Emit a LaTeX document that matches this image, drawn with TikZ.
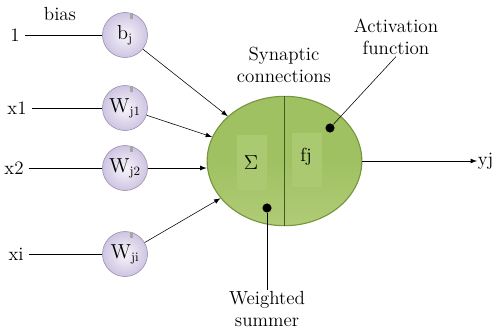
\documentclass[tikz,border=0pt]{standalone}
\usetikzlibrary{shapes.geometric}

\definecolor{cellgreen}{RGB}{160,193,98}
\definecolor{cellgreenlt}{RGB}{176,204,118}
\definecolor{celledge}{RGB}{118,150,62}
\definecolor{wlilac}{RGB}{206,196,226}
\definecolor{wedge}{RGB}{150,140,168}

\begin{document}
\begin{tikzpicture}[x=0.025cm, y=-0.025cm]
\tikzset{ >=latex, font=\fontsize{13.5}{15.5}\selectfont, line width=0.6pt,
  weight/.style={circle, draw=wedge, thin, inner sep=0pt, minimum width=32pt, minimum height=30pt,
    inner color=white!85!wlilac, outer color=wlilac},
  neuron/.style={ellipse, draw=celledge, thick, minimum width=110pt, minimum height=92pt,
    top color=cellgreen, bottom color=cellgreenlt, middle color=cellgreen},
  dot/.style={circle, fill=black, inner sep=0pt, minimum size=6.5pt},
  lbl/.style={align=center, inner sep=1pt},
}

\useasboundingbox (0,0) rectangle (494,331);

%\draw [lightgray, dashed](0,0) grid[step=50] (494,331);

% inputs
\node (one) at (15,35) {1};
\node (bias) at (60,14) {bias};
\node (x1) at (17,108) {x1};
\node (x2) at (14,168) {x2};
\node (xi) at (16,254) {xi};

% weights
\node [weight] (b)  at (125,35)  {$\mathrm{b_j}$};
\node [weight] (w1) at (125,108) {$\mathrm{W_{j1}}$};
\node [weight] (w2) at (125,168) {$\mathrm{W_{j2}}$};
\node [weight] (wi) at (125,254) {$\mathrm{W_{ji}}$};

\foreach \n in {b,w1,w2,wi}
  \fill [gray!70] ([shift={(-8pt,4pt)}]\n.north east) rectangle +(2pt,-4pt);

% neuron
\node [neuron] (n) at (284.5,161) {};
\fill [cellgreenlt!70!cellgreen] (237,135) rectangle (267,190);
\fill [cellgreenlt!70!cellgreen] (292,133) rectangle (322,187);
\draw [celledge!60!black, thick] (n.north) -- (n.south);
\node (sum) at (251,163) {$\Sigma$};
\node (fj) at (306,157) {fj};

\node [anchor=west, inner sep=0.3pt] (yj) at (477,161) {yj};

\draw (one) -- (b);
\draw (x1) -- (w1);
\draw (x2) -- (w2);
\draw (xi) -- (wi);

\draw [->] (b) -- (n);
\draw [->] (w1) -- (n);
\draw [->] (w2) -- (w2 -| n.west);
\draw [->] (wi) -- (n);
\draw [->] (n) -- (yj);

% annotations
\node [lbl] (syn) at (284,65) {Synaptic\\connections};
\node [lbl] (act) at (396,37) {Activation\\function};
\node [lbl] (ws) at (267,309) {Weighted\\summer};

\node [dot] (actdot) at (330,128) {};
\node [dot] (wsdot) at (267,208) {};
\draw (actdot) -- (act.south);
\draw (wsdot) -- (ws.north);

\end{tikzpicture}
\end{document}
